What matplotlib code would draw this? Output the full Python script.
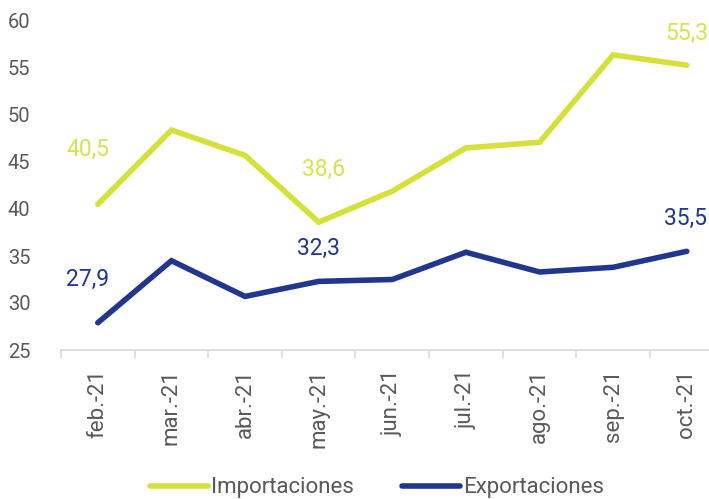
import numpy as np
import matplotlib
matplotlib.use('Agg')
import matplotlib.pyplot as plt
from matplotlib.ticker import FixedLocator

# Data
meses = ['feb.-21', 'mar.-21', 'abr.-21', 'may.-21', 'jun.-21',
         'jul.-21', 'ago.-21', 'sep.-21', 'oct.-21']
importaciones = [40.5, 48.4, 45.7, 38.6, 41.9, 46.5, 47.1, 56.4, 55.3]
exportaciones = [27.9, 34.5, 30.7, 32.3, 32.5, 35.4, 33.3, 33.8, 35.5]

# which points get a value label
etiq_imp = [0, 3, 8]
etiq_exp = [0, 3, 8]

verde = '#D5E03A'
azul = '#21368F'
verde_txt = '#D6E24E'
gris = '#595959'

plt.rcParams['font.family'] = ['Roboto', 'DejaVu Sans']

fig = plt.figure(figsize=(7.09, 4.99), dpi=100)
ax = fig.add_axes([61 / 709, 149 / 499, (723.6 - 61) / 709, (350 - 21) / 499])

x = np.arange(len(meses))
ax.plot(x, importaciones, color=verde, lw=4, solid_capstyle='round',
        solid_joinstyle='miter', label='Importaciones')
ax.plot(x, exportaciones, color=azul, lw=4, solid_capstyle='round',
        solid_joinstyle='miter', label='Exportaciones')

# label offsets in pixels (dx, dy)
off_imp = {0: (-10, 55), 3: (5, 53), 8: (0, 32)}
off_exp = {0: (-10, 43), 3: (0, 33), 8: (-1, 33)}

for i in etiq_imp:
    ax.annotate(f'{importaciones[i]:.1f}'.replace('.', ','), (x[i], importaciones[i]),
                xytext=off_imp[i], textcoords='offset pixels',
                ha='center', va='center', fontsize=16.5, color=verde_txt)
for i in etiq_exp:
    ax.annotate(f'{exportaciones[i]:.1f}'.replace('.', ','), (x[i], exportaciones[i]),
                xytext=off_exp[i], textcoords='offset pixels',
                ha='center', va='center', fontsize=16.5, color=azul)

ax.set_xlim(-0.5, len(meses) - 0.5)
ax.set_ylim(25, 60)
ax.set_yticks(np.arange(25, 61, 5))
ax.tick_params(axis='y', length=0, pad=22, labelsize=14.5, labelcolor=gris)

ax.set_xticks(x)
ax.set_xticklabels(meses, rotation=90)
ax.xaxis.set_minor_locator(FixedLocator(np.arange(-0.5, len(meses), 1)))
ax.tick_params(axis='x', which='major', length=0, pad=14, labelsize=16, labelcolor=gris)
ax.tick_params(axis='x', which='minor', length=6, width=1.2, color='#D9D9D9')

for s in ['top', 'right', 'left']:
    ax.spines[s].set_visible(False)
ax.spines['bottom'].set_color('#D9D9D9')
ax.spines['bottom'].set_linewidth(1.2)

fig.legend(loc='center', bbox_to_anchor=(377 / 709, 1 - 488 / 499), ncol=2,
           frameon=False, handlelength=2.6, handletextpad=0.12,
           columnspacing=2.2, labelcolor=gris,
           prop={'family': ['Roboto'], 'size': 16})

fig.savefig('out.png', dpi=100)
